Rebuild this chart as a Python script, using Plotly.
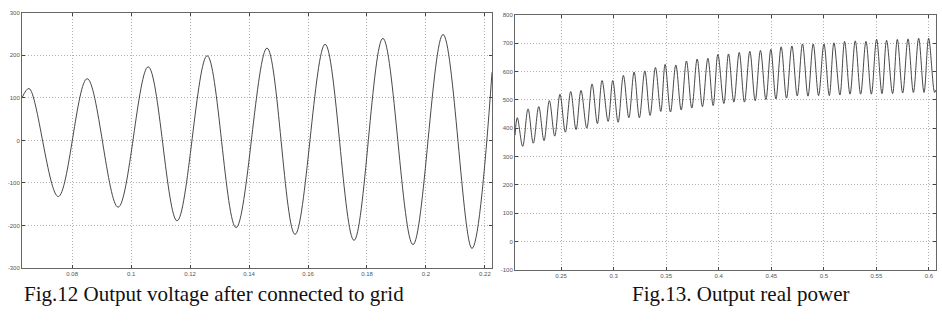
import plotly.graph_objects as go

# ---- Fig.12 voltage: read extrema (time s, volts) ----
v_start = (0.0630, 100)
v_peak_t = [0.0654, 0.0851, 0.1058, 0.1258, 0.1461, 0.1658, 0.1854, 0.2058]
v_peak_v = [122, 145, 173, 199, 217, 226, 240, 249]
v_trough_t = [0.0753, 0.0956, 0.1156, 0.1356, 0.1556, 0.1756, 0.1956, 0.2156]
v_trough_v = [-132, -157, -189, -205, -221, -235, -245, -254]
v_end = (0.2224, 160)

# ---- Fig.13 power: read extrema (time s, W) ----
p_start = (0.2062, 375)
p_peak_t = [0.2084, 0.2186, 0.2288, 0.2389, 0.2490, 0.2592, 0.2690, 0.2795, 0.2890, 0.2992,
            0.3093, 0.3195, 0.3297, 0.3398, 0.3490, 0.3592, 0.3693, 0.3795, 0.3897, 0.3992,
            0.4093, 0.4195, 0.4296, 0.4397, 0.4496, 0.4594, 0.4696, 0.4797, 0.4899, 0.5001,
            0.5096, 0.5197, 0.5299, 0.5401, 0.5502, 0.5597, 0.5699, 0.5801, 0.5902, 0.5997]
p_peak_v = [437, 468, 476, 497, 520, 529, 533, 556, 568, 568,
            586, 598, 602, 614, 625, 623, 637, 644, 646, 660,
            662, 667, 671, 674, 678, 687, 690, 697, 697, 697,
            701, 706, 708, 706, 713, 710, 713, 715, 717, 717]
p_trough_t = [0.2135, 0.2236, 0.2338, 0.2440, 0.2541, 0.2643, 0.2745, 0.2846, 0.2948, 0.3043,
              0.3145, 0.3245, 0.3347, 0.3449, 0.3541, 0.3643, 0.3744, 0.3845, 0.3947, 0.4049,
              0.4144, 0.4245, 0.4347, 0.4449, 0.4544, 0.4645, 0.4747, 0.4849, 0.4950, 0.5052,
              0.5153, 0.5249, 0.5350, 0.5452, 0.5553, 0.5654, 0.5750, 0.5852, 0.5953, 0.6054]
p_trough_v = [336, 347, 356, 372, 386, 395, 400, 416, 424, 421,
              437, 437, 445, 459, 457, 464, 471, 476, 480, 487,
              492, 492, 497, 501, 503, 506, 514, 513, 515, 515,
              517, 520, 520, 520, 522, 522, 524, 526, 526, 526]
p_end = (0.6067, 535)

v_xticks = [0.08, 0.1, 0.12, 0.14, 0.16, 0.18, 0.2, 0.22]
v_xlabels = ["0.08", "0.1", "0.12", "0.14", "0.16", "0.18", "0.2", "0.22"]
v_yticks = [-300, -200, -100, 0, 100, 200, 300]
v_ylabels = ["-300", "-200", "-100", "0", "100", "200", "300"]
p_xticks = [0.25, 0.3, 0.35, 0.4, 0.45, 0.5, 0.55, 0.6]
p_xlabels = ["0.25", "0.3", "0.35", "0.4", "0.45", "0.5", "0.55", "0.6"]
p_yticks = [-100, 0, 100, 200, 300, 400, 500, 600, 700, 800]
p_ylabels = ["-100", "0", "100", "200", "300", "400", "500", "600", "700", "800"]

captions = ["Fig.12 Output voltage after connected to grid", "Fig.13. Output real power"]


def merge(start, pt, pv, tt, tv, end):
    pts = [start] + list(zip(pt, pv)) + list(zip(tt, tv)) + [end]
    pts.sort(key=lambda p: p[0])
    return [p[0] for p in pts], [p[1] for p in pts]


vx, vy = merge(v_start, v_peak_t, v_peak_v, v_trough_t, v_trough_v, v_end)
px, py = merge(p_start, p_peak_t, p_peak_v, p_trough_t, p_trough_v, p_end)

W, H = 942, 323
fig = go.Figure()
fig.add_trace(go.Scatter(x=vx, y=vy, mode="lines", xaxis="x", yaxis="y",
                         line=dict(color="#333", width=0.9, shape="spline", smoothing=1.0),
                         showlegend=False, hoverinfo="skip"))
fig.add_trace(go.Scatter(x=px, y=py, mode="lines", xaxis="x2", yaxis="y2",
                         line=dict(color="#333", width=0.9, shape="spline", smoothing=1.0),
                         showlegend=False, hoverinfo="skip"))

tickfont = dict(family="Liberation Sans", size=6, color="#555")
common = dict(showgrid=True, gridcolor="#b0b0b0", griddash="1px,2px", gridwidth=1,
              showline=True, linecolor="#666", linewidth=1, mirror="ticks",
              ticks="inside", ticklen=3, tickcolor="#444", tickfont=tickfont,
              zeroline=False, fixedrange=True)

fig.update_layout(
    width=W, height=H,
    margin=dict(l=0, r=0, t=0, b=0),
    paper_bgcolor="white", plot_bgcolor="white",
    xaxis=dict(domain=[22 / W, 492 / W], range=[0.0630, 0.2224], anchor="y",
               tickvals=v_xticks, ticktext=v_xlabels, **common),
    yaxis=dict(domain=[1 - 270 / H, 1 - 10 / H], range=[-300, 300], anchor="x",
               tickvals=v_yticks, ticktext=v_ylabels, **common),
    xaxis2=dict(domain=[515 / W, 936 / W], range=[0.2062, 0.6067], anchor="y2",
                tickvals=p_xticks, ticktext=p_xlabels, **common),
    yaxis2=dict(domain=[1 - 272 / H, 1 - 12 / H], range=[-100, 800], anchor="x2",
                tickvals=p_yticks, ticktext=p_ylabels, **common),
    annotations=[
        dict(text=captions[0], x=214 / W, y=1 - 297 / H, xref="paper", yref="paper",
             showarrow=False, xanchor="center", yanchor="middle",
             font=dict(family="Liberation Serif", size=21, color="#111")),
        dict(text=captions[1], x=741 / W, y=1 - 297 / H, xref="paper", yref="paper",
             showarrow=False, xanchor="center", yanchor="middle",
             font=dict(family="Liberation Serif", size=21, color="#111")),
    ],
)

fig.write_html("out.html")
